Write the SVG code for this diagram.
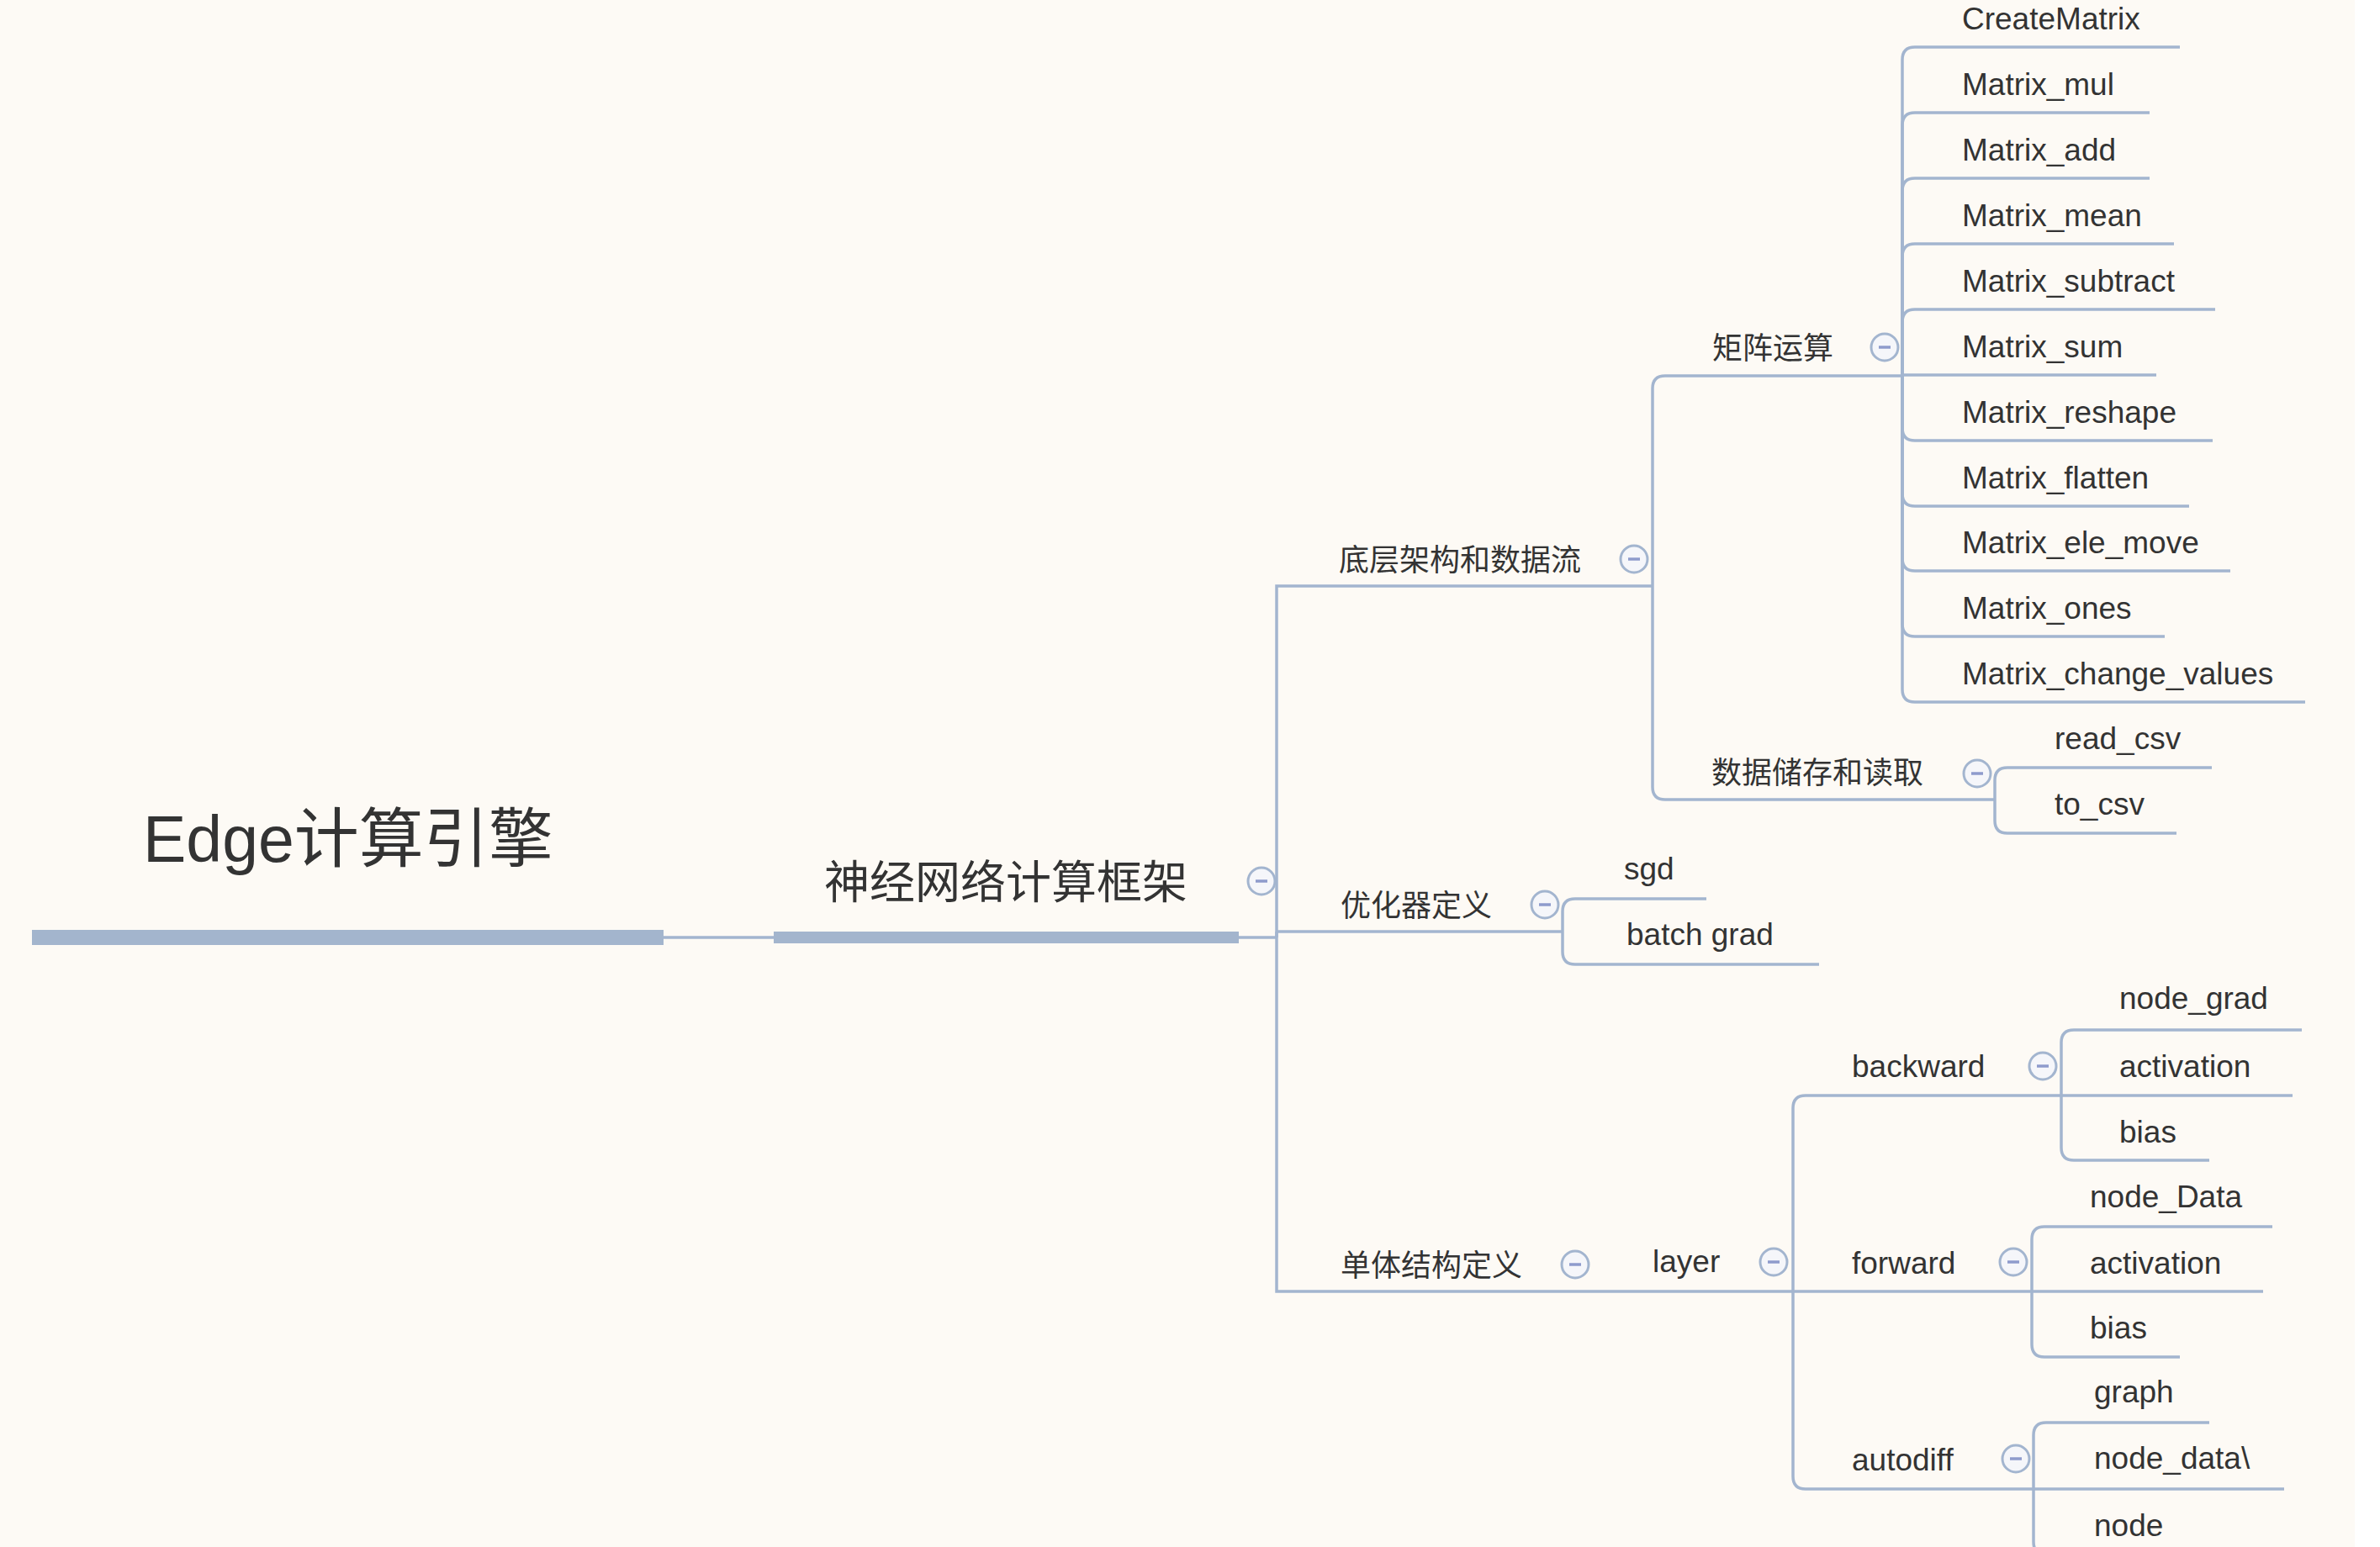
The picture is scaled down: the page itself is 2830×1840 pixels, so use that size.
<svg xmlns="http://www.w3.org/2000/svg" xmlns:xlink="http://www.w3.org/1999/xlink" width="2830" height="1840" viewBox="0 0 2830 1840">
<style>
.ln{fill:none;stroke:#A3B5CF;stroke-width:3.5;stroke-linecap:butt;stroke-linejoin:miter}
.bar{fill:#A3B5CD}
.t{font-family:"Liberation Sans","Noto Sans CJK SC",sans-serif;fill:#333333;font-size:37px}
.cj{font-family:"Noto Sans CJK SC",sans-serif;font-size:36px}
.btn{fill:#F5F6FA;stroke:#A3B5CF;stroke-width:3}
.mn{stroke:#8E9BCC;stroke-width:3.5}
</style>
<defs>
<g id="minus"><circle class="btn" cx="0" cy="0" r="16"/><line class="mn" x1="-7" y1="0" x2="7" y2="0"/></g>
</defs>
<rect x="0" y="0" width="2830" height="1840" fill="#FFFFFF"/>
<rect x="0" y="0" width="2800" height="1840" fill="#FDFAF5"/>

<g id="connectors">
<path class="ln" d="M789,1115 H920"/>
<path class="ln" d="M1473,1115 H1518"/>
<path class="ln" d="M1518,1115 V697 H1965"/>
<path class="ln" d="M1518,1108 H1858"/>
<path class="ln" d="M1518,1108 V1536 H2132"/>
<path class="ln" d="M1965,697 V462 Q1965,447 1980,447 H2262"/>
<path class="ln" d="M1965,697 V936 Q1965,951 1980,951 H2372"/>
<path class="ln" d="M2262,446 V71 Q2262,56 2277,56 H2592"/>
<path class="ln" d="M2262,446 V149 Q2262,134 2277,134 H2556"/>
<path class="ln" d="M2262,446 V227 Q2262,212 2277,212 H2556"/>
<path class="ln" d="M2262,446 V305 Q2262,290 2277,290 H2585"/>
<path class="ln" d="M2262,446 V383 Q2262,368 2277,368 H2634"/>
<path class="ln" d="M2262,446 H2564"/>
<path class="ln" d="M2262,446 V509 Q2262,524 2277,524 H2631"/>
<path class="ln" d="M2262,446 V587 Q2262,602 2277,602 H2603"/>
<path class="ln" d="M2262,446 V664 Q2262,679 2277,679 H2652"/>
<path class="ln" d="M2262,446 V742 Q2262,757 2277,757 H2574"/>
<path class="ln" d="M2262,446 V820 Q2262,835 2277,835 H2741"/>
<path class="ln" d="M2372,952 V928 Q2372,913 2387,913 H2630"/>
<path class="ln" d="M2372,952 V976 Q2372,991 2387,991 H2588"/>
<path class="ln" d="M1858,1108 V1084 Q1858,1069 1873,1069 H2029"/>
<path class="ln" d="M1858,1108 V1132 Q1858,1147 1873,1147 H2163"/>
<path class="ln" d="M2132,1536 V1318 Q2132,1303 2147,1303 H2451"/>
<path class="ln" d="M2132,1536 H2416"/>
<path class="ln" d="M2132,1536 V1756 Q2132,1771 2147,1771 H2418"/>
<path class="ln" d="M2451,1303 V1240 Q2451,1225 2466,1225 H2737"/>
<path class="ln" d="M2451,1303 H2726"/>
<path class="ln" d="M2451,1303 V1365 Q2451,1380 2466,1380 H2627"/>
<path class="ln" d="M2416,1536 V1474 Q2416,1459 2431,1459 H2702"/>
<path class="ln" d="M2416,1536 H2691"/>
<path class="ln" d="M2416,1536 V1599 Q2416,1614 2431,1614 H2592"/>
<path class="ln" d="M2418,1771 V1707 Q2418,1692 2433,1692 H2627"/>
<path class="ln" d="M2418,1771 H2716"/>
<path class="ln" d="M2418,1771 V1834 Q2418,1849 2433,1849 H2600"/>
</g>

<g id="root">
<rect class="bar" x="38" y="1106" width="751" height="18"/>
<text class="t" x="170" y="1025" style="font-size:77px">Edge计算引擎</text>
</g>
<g id="n-nn">
<rect class="bar" x="920" y="1108" width="553" height="14"/>
<text class="t cj" x="980" y="1069" style="font-size:54px">神经网络计算框架</text>
<use xlink:href="#minus" x="1500" y="1048"/>
</g>

<g id="n-dc">
<text class="t cj" x="1592" y="679">底层架构和数据流</text>
<use xlink:href="#minus" x="1943" y="665"/>
</g>
<g id="n-jz">
<text class="t cj" x="2036" y="427">矩阵运算</text>
<use xlink:href="#minus" x="2241" y="413"/>
</g>
<g id="n-m1"><text class="t" x="2333" y="35">CreateMatrix</text></g>
<g id="n-m2"><text class="t" x="2333" y="113">Matrix_mul</text></g>
<g id="n-m3"><text class="t" x="2333" y="191">Matrix_add</text></g>
<g id="n-m4"><text class="t" x="2333" y="269">Matrix_mean</text></g>
<g id="n-m5"><text class="t" x="2333" y="347">Matrix_subtract</text></g>
<g id="n-m6"><text class="t" x="2333" y="425">Matrix_sum</text></g>
<g id="n-m7"><text class="t" x="2333" y="503">Matrix_reshape</text></g>
<g id="n-m8"><text class="t" x="2333" y="581">Matrix_flatten</text></g>
<g id="n-m9"><text class="t" x="2333" y="658">Matrix_ele_move</text></g>
<g id="n-m10"><text class="t" x="2333" y="736">Matrix_ones</text></g>
<g id="n-m11"><text class="t" x="2333" y="814">Matrix_change_values</text></g>

<g id="n-sj">
<text class="t cj" x="2035" y="932">数据储存和读取</text>
<use xlink:href="#minus" x="2351" y="920"/>
</g>
<g id="n-rc"><text class="t" x="2443" y="891">read_csv</text></g>
<g id="n-tc"><text class="t" x="2443" y="969">to_csv</text></g>

<g id="n-yh">
<text class="t cj" x="1594" y="1090">优化器定义</text>
<use xlink:href="#minus" x="1837" y="1076"/>
</g>
<g id="n-sgd"><text class="t" x="1931" y="1046">sgd</text></g>
<g id="n-bg"><text class="t" x="1934" y="1124">batch grad</text></g>

<g id="n-dt">
<text class="t cj" x="1594" y="1518">单体结构定义</text>
<use xlink:href="#minus" x="1873" y="1504"/>
</g>
<g id="n-layer">
<text class="t" x="1965" y="1513">layer</text>
<use xlink:href="#minus" x="2109" y="1501"/>
</g>

<g id="n-bw">
<text class="t" x="2202" y="1281">backward</text>
<use xlink:href="#minus" x="2429" y="1268"/>
</g>
<g id="n-bw1"><text class="t" x="2520" y="1200">node_grad</text></g>
<g id="n-bw2"><text class="t" x="2520" y="1281">activation</text></g>
<g id="n-bw3"><text class="t" x="2520" y="1359">bias</text></g>

<g id="n-fw">
<text class="t" x="2202" y="1515">forward</text>
<use xlink:href="#minus" x="2394" y="1501"/>
</g>
<g id="n-fw1"><text class="t" x="2485" y="1436">node_Data</text></g>
<g id="n-fw2"><text class="t" x="2485" y="1515">activation</text></g>
<g id="n-fw3"><text class="t" x="2485" y="1592">bias</text></g>

<g id="n-ad">
<text class="t" x="2202" y="1749">autodiff</text>
<use xlink:href="#minus" x="2397" y="1735"/>
</g>
<g id="n-ad1"><text class="t" x="2490" y="1668">graph</text></g>
<g id="n-ad2"><text class="t" x="2490" y="1747">node_data\</text></g>
<g id="n-ad3"><text class="t" x="2490" y="1827">node</text></g>
</svg>
